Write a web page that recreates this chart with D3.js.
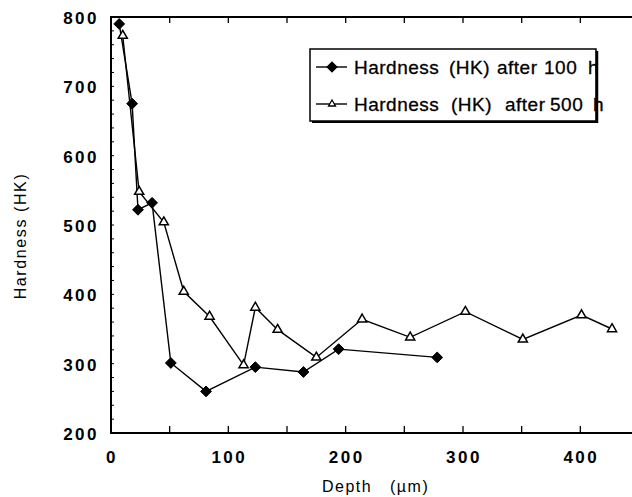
<!DOCTYPE html>
<html>
<head>
<meta charset="utf-8">
<script src="https://cdn.jsdelivr.net/npm/d3@7"></script>
<style>
  html, body { margin: 0; padding: 0; background: #fff; }
  svg { display: block; font-family: "Liberation Sans", Arial, sans-serif; }
</style>
</head>
<body>
<svg id="chart" width="632" height="497"></svg>
<script>
// ---- data ----
const depth100 = [7, 18, 23, 35, 51, 81, 123, 164, 194, 278];
const hard100  = [790, 675, 522, 532, 301, 260, 295, 288, 321, 309];

const depth500 = [10, 24, 45, 62, 84, 113, 123, 142, 175, 214, 255, 302, 351, 401, 427];
const hard500  = [773, 548, 504, 404, 368, 298, 381, 349, 309, 364, 338, 375, 335, 370, 350];

const xTicks = [0, 100, 200, 300, 400];
const yTicks = [200, 300, 400, 500, 600, 700, 800];
const legendLabels = ["Hardness (HK) after 100 h", "Hardness (HK) after 500 h"];
const xLabel = "Depth\u00a0\u00a0\u00a0(\u00b5m)";
const yLabel = "Hardness (HK)";

// ---- layout ----
const svg = d3.select("#chart");
const pLeft = 111, pRight = 639, pTop = 17, pBottom = 433;

const x = d3.scaleLinear().domain([0, 450]).range([pLeft, pRight]);
const y = d3.scaleLinear().domain([200, 800]).range([pBottom, pTop]);

const g = svg.append("g");

// minor y ticks (inward)
g.append("g").selectAll("line").data(d3.range(200, 801, 20)).join("line")
  .attr("x1", pLeft).attr("x2", pLeft + 3)
  .attr("y1", d => y(d)).attr("y2", d => y(d))
  .attr("stroke", "#000").attr("stroke-width", 1);

// x ticks bottom (inward, every 50)
const xt = d3.range(50, 451, 50);
g.append("g").selectAll("line").data(xt).join("line")
  .attr("x1", d => x(d)).attr("x2", d => x(d))
  .attr("y1", pBottom).attr("y2", pBottom - 7)
  .attr("stroke", "#000").attr("stroke-width", 1.3);
// x ticks top (inward)
g.append("g").selectAll("line").data(xt).join("line")
  .attr("x1", d => x(d)).attr("x2", d => x(d))
  .attr("y1", pTop).attr("y2", pTop + 6)
  .attr("stroke", "#000").attr("stroke-width", 1.3);

// frame
g.append("rect").attr("x", pLeft).attr("y", pTop)
  .attr("width", pRight - pLeft).attr("height", pBottom - pTop)
  .attr("fill", "none").attr("stroke", "#000").attr("stroke-width", 2);

// tick labels
g.append("g").selectAll("text").data(xTicks).join("text")
  .attr("x", d => x(d) + 1).attr("y", 463)
  .attr("text-anchor", "middle")
  .attr("font-size", 17).attr("font-weight", "bold")
  .attr("letter-spacing", 2.5)
  .text(d => d);
g.append("g").selectAll("text").data(yTicks).join("text")
  .attr("x", 99).attr("y", d => y(d) + 7)
  .attr("text-anchor", "end")
  .attr("font-size", 17).attr("font-weight", "bold")
  .attr("letter-spacing", 2.5)
  .text(d => d);

// axis titles
svg.append("text")
  .attr("transform", "translate(26,236) rotate(-90)")
  .attr("text-anchor", "middle")
  .attr("font-size", 16).attr("letter-spacing", 1.6)
  .text(yLabel);
svg.append("text")
  .attr("x", 322).attr("y", 492)
  .attr("font-size", 16).attr("letter-spacing", 1.5)
  .text(xLabel);

// series
const line = d3.line().x(d => x(d[0])).y(d => y(d[1]));
const s100 = depth100.map((d, i) => [d, hard100[i]]);
const s500 = depth500.map((d, i) => [d, hard500[i]]);

g.append("path").datum(s100).attr("d", line)
  .attr("fill", "none").attr("stroke", "#000").attr("stroke-width", 1.4);
g.append("path").datum(s500).attr("d", line)
  .attr("fill", "none").attr("stroke", "#000").attr("stroke-width", 1.4);

const diamond = d3.symbol().type(d3.symbolDiamond2).size(75);
const tri = d3.symbol().type(d3.symbolTriangle2).size(60);

g.append("g").selectAll("path").data(s500).join("path")
  .attr("transform", d => `translate(${x(d[0])},${y(d[1])})`)
  .attr("d", tri).attr("fill", "#fff").attr("stroke", "#000").attr("stroke-width", 1.5);
g.append("g").selectAll("path").data(s100).join("path")
  .attr("transform", d => `translate(${x(d[0])},${y(d[1])})`)
  .attr("d", diamond).attr("fill", "#000").attr("stroke", "#000").attr("stroke-width", 1);

// legend
const lg = svg.append("g");
const lx = 310, ly = 49, lw = 286, lh = 72;
lg.append("rect").attr("x", lx + 2).attr("y", ly + 2).attr("width", lw).attr("height", lh)
  .attr("fill", "#000");
lg.append("rect").attr("x", lx).attr("y", ly).attr("width", lw).attr("height", lh)
  .attr("fill", "#fff");
const rows = [
  { yy: 67, fill: "#000", wx: [354, 449, 497, 544, 588] },
  { yy: 104, fill: "#fff", wx: [354, 451, 505, 550, 593] }
];
rows.forEach((r, i) => {
  lg.append("line").attr("x1", 316).attr("x2", 347).attr("y1", r.yy).attr("y2", r.yy)
    .attr("stroke", "#000").attr("stroke-width", 1.4);
  lg.append("path").attr("transform", `translate(332,${r.yy})`)
    .attr("d", i === 0 ? d3.symbol().type(d3.symbolDiamond2).size(60)() : d3.symbol().type(d3.symbolTriangle2).size(35)())
    .attr("fill", r.fill).attr("stroke", "#000").attr("stroke-width", 1.3);
  const t = lg.append("text").attr("y", r.yy + 6.5)
    .attr("font-size", 19).attr("letter-spacing", 0.5)
    .attr("stroke", "#000").attr("stroke-width", 0.3);
  const words = legendLabels[i].split(" ");
  words.forEach((w, k) => t.append("tspan").attr("x", r.wx[k]).text(w));
});
lg.append("rect").attr("x", lx).attr("y", ly).attr("width", lw).attr("height", lh)
  .attr("fill", "none").attr("stroke", "#000").attr("stroke-width", 1.5);
lg.append("line").attr("x1", lx + lw + 1).attr("x2", lx + lw + 1).attr("y1", ly + 2).attr("y2", ly + lh + 2)
  .attr("stroke", "#000").attr("stroke-width", 2.5);
</script>
</body>
</html>
